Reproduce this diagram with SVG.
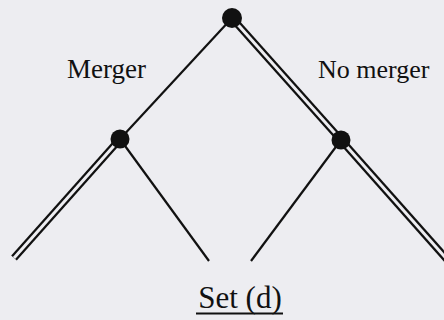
<svg xmlns="http://www.w3.org/2000/svg" width="444" height="320" viewBox="0 0 444 320">
<style>
.single{stroke:#111;stroke-width:2.2;fill:none}
.dout{stroke:#111;stroke-width:7.5;fill:none}
.din{stroke:#ededf1;stroke-width:3;fill:none}
.node{fill:#111}
.lbl{font-family:"Liberation Serif","Times New Roman",serif;fill:#111}
</style>
<rect width="444" height="320" fill="#ededf1"/>
<g id="connectors">
<line class="single" x1="232" y1="18" x2="120" y2="139"/>
<line class="single" x1="120" y1="139" x2="209" y2="261"/>
<line class="single" x1="341" y1="140" x2="251" y2="261"/>
<g id="double-top-right"><line class="dout" x1="232" y1="18" x2="341" y2="140"/><line class="din" x1="232" y1="18" x2="341" y2="140"/></g>
<g id="double-left"><line class="dout" x1="120" y1="139" x2="14" y2="258"/><line class="din" x1="120" y1="139" x2="14" y2="258"/></g>
<g id="double-right"><line class="dout" x1="341" y1="140" x2="452" y2="265"/><line class="din" x1="341" y1="140" x2="452" y2="265"/></g>
</g>
<g id="node-root"><circle class="node" cx="232" cy="18" r="10"/></g>
<g id="node-left"><circle class="node" cx="120" cy="139" r="9.5"/></g>
<g id="node-right"><circle class="node" cx="341" cy="140" r="9.5"/></g>
<g id="labels">
<text class="lbl" x="67" y="78" font-size="27">Merger</text>
<text class="lbl" x="318" y="78" font-size="26">No merger</text>
<text class="lbl" x="240" y="308" font-size="31" text-anchor="middle">Set (d)</text>
<line x1="196" y1="313.5" x2="283" y2="313.5" stroke="#111" stroke-width="2"/>
</g>
</svg>
